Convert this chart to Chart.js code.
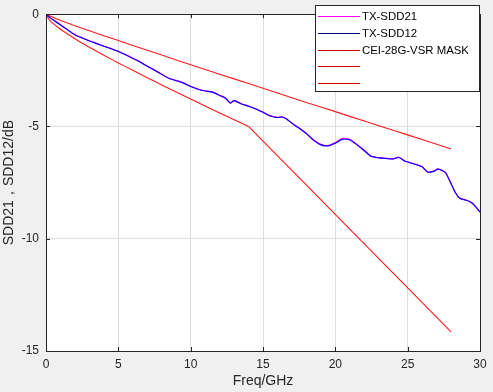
<!DOCTYPE html>
<html>
<head>
<meta charset="utf-8">
<script src="https://cdn.jsdelivr.net/npm/chart.js@4"></script>
<style>
  html, body { margin: 0; padding: 0; background: #f0f0f0; }
  #wrap { width: 493px; height: 392px; }
</style>
</head>
<body>
<div id="wrap"><canvas id="canvas" width="493" height="392"></canvas></div>
<script>
// Data
const freqs = [0, 0.25, 0.5, 1, 1.5, 2, 2.5, 3, 3.5, 4, 4.5, 5, 5.5, 6, 6.5, 7, 7.5, 8, 8.5, 9, 9.5, 10,
  10.5, 11, 11.5, 12, 12.4, 12.75, 13, 13.5, 14, 14.5, 15, 15.5, 16, 16.3, 16.6, 17, 17.5, 18, 18.5, 19,
  19.5, 20, 20.5, 21, 21.5, 22, 22.5, 23, 23.5, 24, 24.4, 24.8, 25, 25.5, 26, 26.4, 26.8, 27.1, 27.6, 28,
  28.3, 28.6, 29, 29.3, 29.6, 30];
const sdd12 = [0, -0.14, -0.26, -0.48, -0.7, -0.92, -1.06, -1.19, -1.31, -1.43, -1.54, -1.66, -1.81, -1.97,
  -2.13, -2.32, -2.5, -2.68, -2.86, -2.96, -3.07, -3.22, -3.34, -3.42, -3.47, -3.62, -3.74, -3.96, -3.85,
  -4.0, -4.1, -4.22, -4.37, -4.53, -4.6, -4.58, -4.66, -4.86, -5.08, -5.32, -5.62, -5.82, -5.87, -5.75,
  -5.57, -5.6, -5.82, -6.08, -6.34, -6.4, -6.43, -6.45, -6.38, -6.55, -6.58, -6.68, -6.8, -7.04, -7.0,
  -6.9, -7.05, -7.55, -7.95, -8.2, -8.28, -8.35, -8.5, -8.82];
const sdd21 = [0, -0.13, -0.25, -0.47, -0.69, -0.91, -1.05, -1.18, -1.3, -1.42, -1.53, -1.65, -1.8, -1.96,
  -2.12, -2.31, -2.49, -2.67, -2.85, -2.95, -3.06, -3.21, -3.33, -3.41, -3.46, -3.61, -3.73, -3.95, -3.84,
  -3.99, -4.09, -4.21, -4.36, -4.52, -4.59, -4.57, -4.65, -4.85, -5.07, -5.31, -5.6, -5.8, -5.85, -5.72,
  -5.53, -5.57, -5.8, -6.06, -6.33, -6.39, -6.42, -6.44, -6.37, -6.54, -6.57, -6.67, -6.79, -7.03, -6.99,
  -6.89, -7.04, -7.54, -7.94, -8.19, -8.27, -8.34, -8.49, -8.81];

const upperMaskX = [0, 1, 2, 4, 6, 8, 10, 12, 14, 16, 18, 20, 22, 24, 26, 28];
const upperMaskY = [0, -0.28, -0.51, -0.96, -1.39, -1.82, -2.25, -2.67, -3.09, -3.51, -3.93, -4.34, -4.76,
  -5.17, -5.58, -6.0];
const lowerMaskX = [0, 0.25, 0.5, 1, 2, 3, 4, 5, 6, 7, 8, 9, 10, 11, 12, 13, 14];
const lowerMaskY = [0, -0.27, -0.42, -0.67, -1.09, -1.47, -1.83, -2.17, -2.5, -2.83, -3.15, -3.47, -3.78,
  -4.09, -4.4, -4.7, -5.0];
const lowerMask2X = [14, 28];
const lowerMask2Y = [-5.0, -14.15];

const xTicks = [0, 5, 10, 15, 20, 25, 30];
const yTicks = [0, -5, -10, -15];

const legendNames = ['TX-SDD21', 'TX-SDD12', 'CEI-28G-VSR MASK', '', ''];
const MAGENTA = '#ff00ff';
const BLUE = '#0000ff';
const RED = '#ff1a1a';
const legendColors = [MAGENTA, '#00007f', '#d40000', '#d40000', '#d40000'];

const FONT = '"Liberation Sans", Arial, sans-serif';
const AXIS = '#262626';

function toPoints(xs, ys) {
  return xs.map((x, i) => ({ x: x, y: ys[i] }));
}

// gray figure background + white axes background
const bgPlugin = {
  id: 'bg',
  beforeDraw(chart) {
    const ctx = chart.ctx;
    const a = chart.chartArea;
    ctx.save();
    ctx.fillStyle = '#f0f0f0';
    ctx.fillRect(0, 0, chart.width, chart.height);
    ctx.fillStyle = '#ffffff';
    ctx.fillRect(a.left, a.top, a.right - a.left, a.bottom - a.top);
    ctx.restore();
  }
};

// box around axes, inward ticks, matlab-style legend
const boxPlugin = {
  id: 'box',
  afterDraw(chart) {
    const ctx = chart.ctx;
    const a = chart.chartArea;
    const xs = chart.scales.x;
    const ys = chart.scales.y;
    ctx.save();
    ctx.strokeStyle = AXIS;
    ctx.lineWidth = 1;
    ctx.strokeRect(Math.round(a.left) + 0.5, Math.round(a.top) + 0.5,
      Math.round(a.right - a.left), Math.round(a.bottom - a.top));
    ctx.beginPath();
    xTicks.forEach(v => {
      const px = Math.round(xs.getPixelForValue(v)) + 0.5;
      ctx.moveTo(px, a.bottom); ctx.lineTo(px, a.bottom - 4);
      ctx.moveTo(px, a.top); ctx.lineTo(px, a.top + 4);
    });
    yTicks.forEach(v => {
      const py = Math.round(ys.getPixelForValue(v)) + 0.5;
      ctx.moveTo(a.left, py); ctx.lineTo(a.left + 4, py);
      ctx.moveTo(a.right, py); ctx.lineTo(a.right - 4, py);
    });
    ctx.stroke();

    // legend
    const lx = 315, ly = 5, lw = 164, lh = 86;
    ctx.fillStyle = '#ffffff';
    ctx.fillRect(lx, ly, lw, lh);
    ctx.strokeStyle = AXIS;
    ctx.strokeRect(lx + 0.5, ly + 0.5, lw, lh);
    ctx.font = '11.4px ' + FONT;
    ctx.textBaseline = 'middle';
    ctx.textAlign = 'left';
    legendNames.forEach((name, i) => {
      const y = Math.round(16 + i * 16.8);
      ctx.strokeStyle = legendColors[i];
      ctx.lineWidth = 1;
      ctx.beginPath();
      ctx.moveTo(318, y + 0.5);
      ctx.lineTo(360, y + 0.5);
      ctx.stroke();
      ctx.fillStyle = '#000000';
      ctx.fillText(name, 362, y + 0.5);
    });
    ctx.restore();
  }
};

const ctx = document.getElementById('canvas').getContext('2d');

new Chart(ctx, {
  type: 'line',
  data: {
    datasets: [
      {
        label: legendNames[0],
        data: toPoints(freqs, sdd21),
        borderColor: MAGENTA,
        borderWidth: 1.2,
        pointRadius: 0,
        tension: 0.2,
        order: 1
      },
      {
        label: legendNames[1],
        data: toPoints(freqs, sdd12),
        borderColor: BLUE,
        borderWidth: 1.1,
        pointRadius: 0,
        tension: 0.2,
        order: 0
      },
      {
        label: legendNames[2],
        data: toPoints(upperMaskX, upperMaskY),
        borderColor: RED,
        borderWidth: 1.1,
        pointRadius: 0,
        tension: 0.2,
        order: 2
      },
      {
        label: legendNames[3],
        data: toPoints(lowerMaskX, lowerMaskY),
        borderColor: RED,
        borderWidth: 1.1,
        pointRadius: 0,
        tension: 0.2,
        order: 3
      },
      {
        label: legendNames[4],
        data: toPoints(lowerMask2X, lowerMask2Y),
        borderColor: RED,
        borderWidth: 1.1,
        pointRadius: 0,
        tension: 0,
        order: 4
      }
    ]
  },
  options: {
    responsive: false,
    animation: false,
    layout: { padding: { top: 6, right: 13, left: 0, bottom: 0 } },
    plugins: {
      legend: { display: false },
      tooltip: { enabled: false }
    },
    scales: {
      x: {
        type: 'linear',
        min: 0,
        max: 30,
        afterBuildTicks(scale) {
          scale.ticks = xTicks.map(v => ({ value: v }));
        },
        afterFit(scale) { scale.height = 41; },
        grid: { color: '#dedede', drawTicks: false },
        border: { display: false },
        ticks: {
          padding: 6,
          color: AXIS,
          font: { family: FONT, size: 12 },
          maxRotation: 0
        },
        title: {
          display: true,
          text: 'Freq/GHz',
          color: AXIS,
          font: { family: FONT, size: 14 },
          padding: { top: 0, bottom: 2 }
        }
      },
      y: {
        type: 'linear',
        min: -15,
        max: 0,
        afterBuildTicks(scale) {
          scale.ticks = yTicks.map(v => ({ value: v }));
        },
        afterFit(scale) { scale.width = 46; },
        grid: { color: '#dedede', drawTicks: false },
        border: { display: false },
        ticks: {
          padding: 7,
          color: AXIS,
          font: { family: FONT, size: 12 }
        },
        title: {
          display: true,
          text: 'SDD21，SDD12/dB',
          color: AXIS,
          font: { family: FONT, size: 14 },
          padding: { top: 1, bottom: 0 }
        }
      }
    }
  },
  plugins: [bgPlugin, boxPlugin]
});
</script>
</body>
</html>
